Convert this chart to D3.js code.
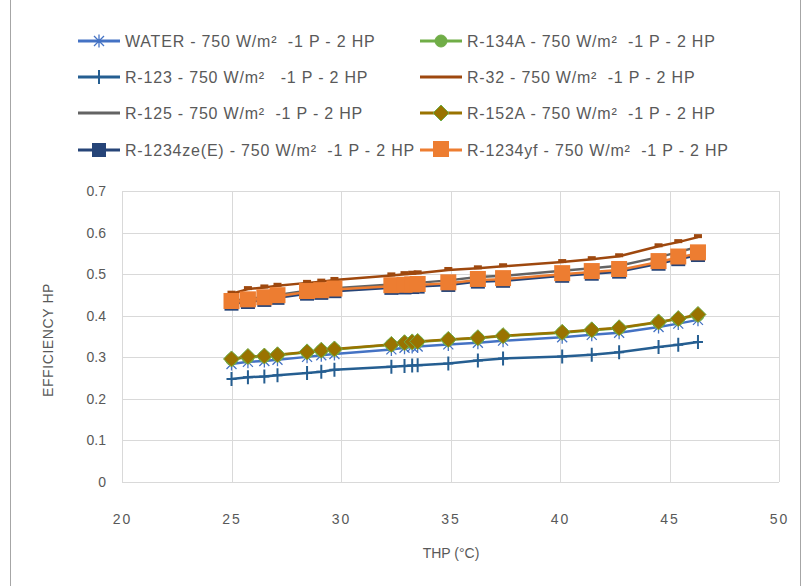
<!DOCTYPE html>
<html><head><meta charset="utf-8">
<script src="https://cdn.jsdelivr.net/npm/d3@7"></script>
<style>
body{margin:0;background:#fff;}
text{font-family:"Liberation Sans",Arial,sans-serif;fill:#595959;white-space:pre;}
</style></head>
<body><svg id="c" width="806" height="586"></svg>
<script>
const thp = [25, 25.75, 26.5, 27.1, 28.45, 29.1, 29.7, 32.3, 32.9, 33.25, 33.5, 34.9, 36.25, 37.4, 40.1, 41.45, 42.7, 44.5, 45.4, 46.3];
const water   = [0.284,0.289,0.291,0.294,0.301,0.305,0.308,0.319,0.323,0.325,0.326,0.331,0.335,0.340,0.348,0.354,0.359,0.373,0.381,0.390];
const r134a   = [0.295,0.300,0.302,0.305,0.312,0.316,0.319,0.330,0.334,0.336,0.337,0.342,0.346,0.351,0.359,0.365,0.370,0.384,0.392,0.401];
const r123    = [0.248,0.252,0.254,0.257,0.262,0.265,0.270,0.277,0.279,0.280,0.281,0.285,0.292,0.297,0.302,0.306,0.312,0.325,0.330,0.337];
const r32     = [0.453,0.464,0.468,0.472,0.479,0.482,0.486,0.497,0.500,0.501,0.502,0.510,0.514,0.519,0.529,0.536,0.543,0.567,0.577,0.589];
const r125    = [0.436,0.440,0.445,0.450,0.460,0.462,0.466,0.475,0.477,0.478,0.479,0.485,0.493,0.496,0.508,0.514,0.520,0.541,0.553,0.566];
const r152a   = [0.296,0.302,0.303,0.306,0.313,0.317,0.320,0.331,0.335,0.337,0.338,0.343,0.347,0.352,0.360,0.366,0.371,0.385,0.393,0.403];
const r1234ze = [0.429,0.433,0.438,0.443,0.453,0.455,0.459,0.467,0.468,0.469,0.470,0.474,0.482,0.484,0.496,0.501,0.506,0.525,0.536,0.546];
const r1234yf = [0.433,0.437,0.442,0.447,0.457,0.459,0.463,0.471,0.472,0.473,0.474,0.478,0.486,0.488,0.500,0.505,0.510,0.529,0.540,0.550];
const seriesNames = ["WATER - 750 W/m²  -1 P - 2 HP","R-134A - 750 W/m²  -1 P - 2 HP","R-123 - 750 W/m²   -1 P - 2 HP","R-32 - 750 W/m²  -1 P - 2 HP","R-125 - 750 W/m²  -1 P - 2 HP","R-152A - 750 W/m²  -1 P - 2 HP","R-1234ze(E) - 750 W/m²  -1 P - 2 HP","R-1234yf - 750 W/m²  -1 P - 2 HP"];
const xTicks = [20,25,30,35,40,45,50];
const yTicks = [0,0.1,0.2,0.3,0.4,0.5,0.6,0.7];
const xTitle = "THP (°C)";
const yTitle = "EFFICIENCY HP";

const seriesData = [water,r134a,r123,r32,r125,r152a,r1234ze,r1234yf];
const styles = [
  {color:"#4472C4", marker:"star"},
  {color:"#70AD47", marker:"circle"},
  {color:"#255E91", marker:"plus"},
  {color:"#9E480E", marker:"tick"},
  {color:"#636363", marker:"none"},
  {color:"#997300", marker:"diamond"},
  {color:"#264478", marker:"square"},
  {color:"#ED7D31", marker:"bigsquare"}
];

const svg = d3.select("#c");
svg.append("rect").attr("x",10.5).attr("y",-2).attr("width",790).attr("height",600)
  .attr("fill","none").attr("stroke","#a6a6a6").attr("stroke-width",1);

const L=122, R=779, T=191, B=482;
const x = d3.scaleLinear().domain([20,50]).range([L,R]);
const y = d3.scaleLinear().domain([0,0.7]).range([B,T]);

const g = svg.append("g");
g.selectAll(".hg").data(yTicks).join("line")
  .attr("x1",L).attr("x2",R).attr("y1",d=>Math.round(y(d))+0.5).attr("y2",d=>Math.round(y(d))+0.5)
  .attr("stroke","#d9d9d9").attr("stroke-width",1);
g.selectAll(".vg").data(xTicks).join("line")
  .attr("y1",T).attr("y2",B).attr("x1",d=>Math.round(x(d))+0.5).attr("x2",d=>Math.round(x(d))+0.5)
  .attr("stroke","#d9d9d9").attr("stroke-width",1);

const xAxis = svg.append("g").attr("transform",`translate(0,${B})`)
  .call(d3.axisBottom(x).tickValues(xTicks).tickSize(0).tickPadding(32).tickFormat(d3.format("d")));
xAxis.select(".domain").remove();
xAxis.selectAll("text").style("font-size","14px").style("letter-spacing","2px").attr("fill","#595959");
const yAxis = svg.append("g").attr("transform",`translate(${L},0)`)
  .call(d3.axisLeft(y).tickValues(yTicks).tickSize(0).tickPadding(16).tickFormat(d=>d===0?"0":d3.format(".1f")(d)));
yAxis.select(".domain").remove();
yAxis.selectAll("text").style("font-size","14px").attr("fill","#595959");

svg.append("text").attr("x",451).attr("y",558).attr("text-anchor","middle").style("font-size","14px").text(xTitle);
svg.append("text").attr("transform","translate(53,340) rotate(-90)").attr("text-anchor","middle").style("font-size","14px").style("letter-spacing","0.6px").text(yTitle);

function drawMarker(sel, type, color){
  if(type==="star"){
    const s=5;
    sel.append("path").attr("d",`M${-s},${-s}L${s},${s}M${-s},${s}L${s},${-s}M0,${-s*1.3}L0,${s*1.3}`)
      .attr("stroke",color).attr("stroke-width",1.3).attr("fill","none");
  } else if(type==="circle"){
    sel.append("circle").attr("r",6).attr("fill",color).attr("stroke",color);
  } else if(type==="plus"){
    sel.append("path").attr("d","M0,-7L0,7M-5,0L5,0").attr("stroke",color).attr("stroke-width",2).attr("fill","none");
  } else if(type==="tick"){
    sel.append("rect").attr("x",-4).attr("y",-3).attr("width",8).attr("height",4).attr("fill",color);
  } else if(type==="diamond"){
    sel.append("path").attr("d","M0,-8L8,0L0,8L-8,0Z").attr("fill",color).attr("stroke","#70AD47").attr("stroke-width",1);
  } else if(type==="square"){
    sel.append("rect").attr("x",-7).attr("y",-7).attr("width",14).attr("height",14).attr("fill",color);
  } else if(type==="bigsquare"){
    sel.append("rect").attr("x",-8).attr("y",-9).attr("width",16).attr("height",16).attr("fill",color);
  }
}

const line = d3.line().x(d=>x(d[0])).y(d=>y(d[1]));
seriesData.forEach((vals,i)=>{
  const pts = thp.map((t,k)=>[t,vals[k]]);
  const st = styles[i];
  const sg = svg.append("g");
  sg.append("path").datum(pts).attr("d",line).attr("fill","none").attr("stroke",st.color).attr("stroke-width",2.5).attr("stroke-linejoin","round");
  if(st.marker!=="none"){
    pts.forEach(p=>{
      const m = sg.append("g").attr("transform",`translate(${x(p[0])},${y(p[1])})`);
      drawMarker(m, st.marker, st.color);
    });
  }
});

const legX=[78,420], legY=[41,77,113,150];
seriesNames.forEach((name,i)=>{
  const col=i%2, row=Math.floor(i/2);
  const lg = svg.append("g").attr("transform",`translate(${legX[col]},${legY[row]})`);
  lg.append("line").attr("x1",0).attr("x2",42).attr("y1",0).attr("y2",0).attr("stroke",styles[i].color).attr("stroke-width",3);
  const m = lg.append("g").attr("transform","translate(21,0)");
  if(styles[i].marker!=="tick") drawMarker(m, styles[i].marker, styles[i].color);
  lg.append("text").attr("x",47).attr("y",6).style("font-size","16px").style("letter-spacing","0.8px").text(name);
});
</script></body></html>
